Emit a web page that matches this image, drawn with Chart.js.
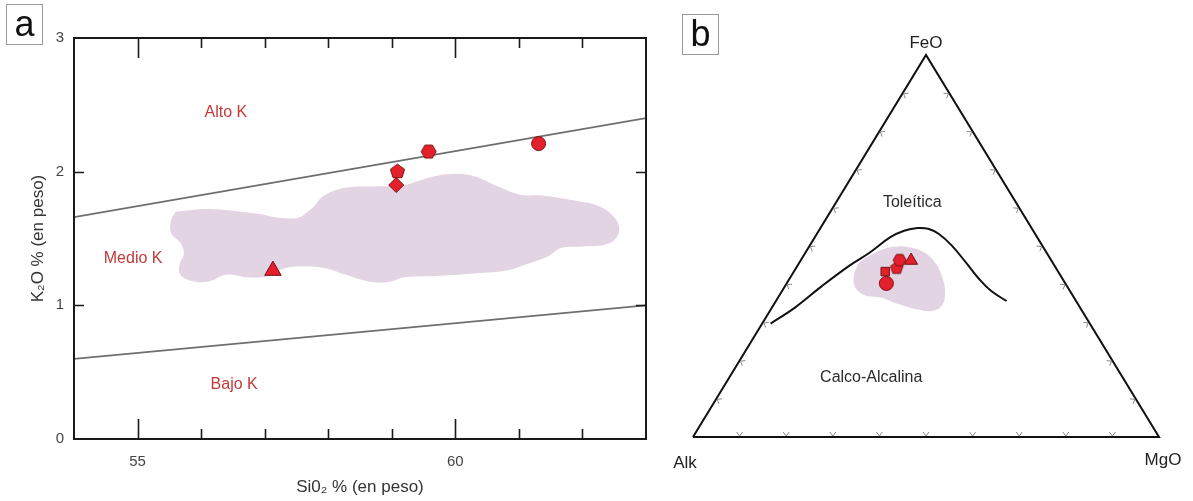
<!DOCTYPE html>
<html>
<head>
<meta charset="utf-8">
<script src="https://cdn.jsdelivr.net/npm/chart.js@4.4.1/dist/chart.umd.min.js"></script>
<style>
body { margin: 0; background: #fff; width: 1193px; height: 501px; position: relative; overflow: hidden; font-family: "Liberation Sans", Arial, sans-serif; }
.panel { position: absolute; top: 0; height: 501px; }
#panelA { left: 0; width: 660px; }
#panelB { left: 660px; width: 533px; }
.tag { position: absolute; border: 1px solid #999; background: #fff; color: #111; font-size: 36px; line-height: 37px; text-align: center; }
</style>
</head>
<body>
<div class="panel" id="panelA"><canvas id="chartA" width="660" height="501"></canvas></div>
<div class="panel" id="panelB"><canvas id="chartB" width="533" height="501"></canvas></div>
<div class="tag" style="left:6px;top:4px;width:35px;height:39px;">a</div>
<div class="tag" style="left:682px;top:14px;width:35px;height:39px;">b</div>
<script>
// --- panel a: K2O vs SiO2 ---
const siO2Samples = [57.13, 59.07, 59.09, 59.58, 61.31];
const k2OSamples = [1.26, 1.90, 2.00, 2.15, 2.21];
const markersA = ['triangle', 'diamond', 'pentagon', 'hexagon', 'circle'];

const highKSiO2 = [54, 63];
const highKK2O = [1.66, 2.40];
const lowKSiO2 = [54, 63];
const lowKK2O = [0.60, 1.00];

const blobSiO2 = [55.60, 56.13, 56.80, 57.47, 57.73, 57.93, 58.27, 58.80, 59.20, 59.47, 59.87, 60.27, 60.67, 61.00, 61.40, 61.80,
    62.27, 62.53, 62.57, 62.40, 62.00, 61.67, 61.47, 61.13, 60.80, 60.33, 59.73, 59.20, 59.00, 58.80, 58.53, 58.27, 57.93,
    57.53, 57.27, 57.07, 56.73, 56.40, 56.13, 55.87, 55.67, 55.67, 55.73, 55.67, 55.53, 55.53];
const blobK2O = [1.70, 1.72, 1.69, 1.65, 1.72, 1.82, 1.88, 1.89, 1.90, 1.94, 1.98, 1.97, 1.89, 1.83, 1.82, 1.79,
    1.74, 1.64, 1.54, 1.46, 1.44, 1.43, 1.37, 1.31, 1.26, 1.24, 1.22, 1.21, 1.18, 1.17, 1.19, 1.23, 1.28,
    1.29, 1.27, 1.22, 1.21, 1.23, 1.18, 1.18, 1.23, 1.32, 1.39, 1.47, 1.54, 1.64];

const seriesLabelsA = ['Alto K', 'Medio K', 'Bajo K'];
const seriesLabelSiO2 = [56.39, 54.93, 56.52];
const seriesLabelK2O = [2.44, 1.35, 0.41];

// --- panel b: AFM ternary (Alk, FeO, MgO) ---
const sampleAlk = [38.4, 37.1, 34.2, 32.5, 30.1];
const sampleFeO = [40.2, 43.3, 44.2, 46.3, 46.2];
const sampleMgO = [21.4, 19.6, 21.6, 21.2, 23.7];
const markersB = ['circle', 'rect', 'pentagon', 'hexagon', 'triangle'];

const curveAlk = [68.5, 61.3, 52.6, 44.1, 37.9, 31.5, 27.7, 24.4, 22.3, 20.7, 19.4, 18.6, 17.9, 16.9, 14.9];
const curveFeO = [29.7, 33.8, 39.5, 44.8, 48.3, 52.3, 54.0, 54.7, 54.5, 53.2, 50.1, 45.7, 41.3, 38.2, 35.6];
const curveMgO = [1.8, 4.9, 7.9, 11.1, 13.8, 16.2, 18.3, 20.9, 23.2, 26.1, 30.5, 35.7, 40.8, 44.9, 49.5];

const blobBAlk = [43.8, 41.4, 38.3, 34.5, 31.2, 28.5, 26.2, 25.2, 25.5, 27.0, 29.5, 32.3, 35.1, 37.5, 39.3, 41.6, 44.3, 45.5, 45.3];
const blobBFeO = [43.1, 45.7, 47.5, 49.2, 49.9, 49.6, 48.3, 45.7, 42.2, 37.8, 34.3, 33.0, 33.4, 34.3, 35.2, 36.5, 36.9, 38.2, 40.4];
const blobBMgO = [13.1, 12.9, 14.2, 16.3, 18.9, 21.9, 25.5, 29.1, 32.3, 35.2, 36.2, 34.7, 31.5, 28.2, 25.5, 21.9, 18.8, 16.3, 14.3];

const fieldLabelsB = ['Toleítica', 'Calco-Alcalina'];
const fieldLabelAlk = [22.3, 54.0];
const fieldLabelFeO = [61.3, 15.5];
const fieldLabelMgO = [16.4, 30.5];

const RED = '#e3202b';
const RED_EDGE = '#7a1212';
const LAVENDER = 'rgb(227, 212, 228)';
const LABEL_RED = '#c23a3a';

// pentagon / hexagon markers are not built into Chart.js
function polygonMarker(sides, r, rot) {
    const size = Math.ceil(2 * r + 4);
    const c = document.createElement('canvas');
    c.width = size; c.height = size;
    const g = c.getContext('2d');
    g.beginPath();
    for (let i = 0; i < sides; i++) {
        const a = rot + i * 2 * Math.PI / sides;
        g.lineTo(size / 2 + r * Math.cos(a), size / 2 + r * Math.sin(a));
    }
    g.closePath();
    g.fillStyle = RED; g.fill();
    g.strokeStyle = RED_EDGE; g.lineWidth = 1; g.stroke();
    return c;
}

function markerStyle(name, r) {
    if (name === 'pentagon') return polygonMarker(5, r, -Math.PI / 2);
    if (name === 'hexagon') return polygonMarker(6, r, 0);
    if (name === 'diamond') return 'rectRot';
    return name;
}

function toXY(alk, feo, mgo) {
    const s = alk + feo + mgo;
    const f = feo / s, m = mgo / s;
    return { x: m + f / 2, y: f };
}

function zipXY(xs, ys) {
    return xs.map(function(x, i) { return { x: x, y: ys[i] }; });
}

function ternPoints(a, f, m) {
    return a.map(function(v, i) { return toXY(v, f[i], m[i]); });
}

const blobA = zipXY(blobSiO2, blobK2O);
blobA.push(blobA[0]);
const blobB = ternPoints(blobBAlk, blobBFeO, blobBMgO);
blobB.push(blobB[0]);

const frameA = {
    id: 'frameA',
    afterDatasetsDraw: function(chart) {
        const ctx = chart.ctx, xs = chart.scales.x, ys = chart.scales.y;
        ctx.save();
        ctx.font = '16px "Liberation Sans", Arial, sans-serif';
        ctx.fillStyle = LABEL_RED;
        ctx.textAlign = 'center';
        ctx.textBaseline = 'middle';
        seriesLabelsA.forEach(function(t, i) {
            ctx.fillText(t, xs.getPixelForValue(seriesLabelSiO2[i]), ys.getPixelForValue(seriesLabelK2O[i]));
        });
        ctx.restore();
    },
    afterDraw: function(chart) {
        const ctx = chart.ctx, a = chart.chartArea, xs = chart.scales.x, ys = chart.scales.y;
        ctx.save();
        ctx.strokeStyle = '#1a1a1a';
        ctx.lineWidth = 2;
        ctx.strokeRect(a.left, a.top, a.right - a.left, a.bottom - a.top);
        ctx.lineWidth = 1.6;
        ctx.beginPath();
        xs.ticks.forEach(function(t) {
            if (t.value <= xs.min || t.value >= xs.max) return;
            const px = Math.round(xs.getPixelForValue(t.value)) + 0.5;
            const len = (t.value % 5 === 0) ? 20 : 10;
            ctx.moveTo(px, a.bottom); ctx.lineTo(px, a.bottom - len);
            ctx.moveTo(px, a.top); ctx.lineTo(px, a.top + len);
        });
        ys.ticks.forEach(function(t) {
            if (t.value <= ys.min || t.value >= ys.max) return;
            const py = Math.round(ys.getPixelForValue(t.value)) + 0.5;
            ctx.moveTo(a.left, py); ctx.lineTo(a.left + 10, py);
            ctx.moveTo(a.right, py); ctx.lineTo(a.right - 10, py);
        });
        ctx.stroke();
        ctx.restore();
    }
};

new Chart(document.getElementById('chartA'), {
    type: 'scatter',
    data: {
        datasets: [
            {
                data: zipXY(siO2Samples, k2OSamples),
                pointStyle: markersA.map(function(m) { return markerStyle(m, 7.5); }),
                pointRadius: [9.5, 7.5, 7.5, 7.5, 7],
                backgroundColor: RED,
                borderColor: RED_EDGE,
                borderWidth: 1,
                order: 1
            },
            {
                type: 'line',
                data: zipXY(highKSiO2, highKK2O),
                borderColor: '#6e6e6e',
                borderWidth: 1.8,
                pointRadius: 0,
                order: 2
            },
            {
                type: 'line',
                data: zipXY(lowKSiO2, lowKK2O),
                borderColor: '#6e6e6e',
                borderWidth: 1.8,
                pointRadius: 0,
                order: 2
            },
            {
                type: 'line',
                data: blobA,
                backgroundColor: LAVENDER,
                borderWidth: 0,
                borderColor: LAVENDER,
                fill: 'shape',
                tension: 0.4,
                pointRadius: 0,
                order: 5
            }
        ]
    },
    options: {
        responsive: false,
        animation: false,
        devicePixelRatio: 1,
        layout: { padding: { left: 20, right: 14, top: 38, bottom: 2 } },
        plugins: { legend: { display: false }, tooltip: { enabled: false } },
        scales: {
            x: {
                min: 54, max: 63,
                afterFit: function(s) { s.height = 60; },
                grid: { display: false, drawTicks: false },
                border: { display: false },
                ticks: {
                    stepSize: 1, autoSkip: false, padding: 14, color: '#444',
                    font: { family: '"Liberation Sans", Arial, sans-serif', size: 15 },
                    callback: function(v) { return (v === 55 || v === 60) ? String(v) : ''; }
                },
                title: {
                    display: true, text: 'Si0₂ % (en peso)', color: '#333',
                    font: { family: '"Liberation Sans", Arial, sans-serif', size: 17 },
                    padding: { top: 0, bottom: 1 }
                }
            },
            y: {
                min: 0, max: 3,
                afterFit: function(s) { s.width = 54; },
                grid: { display: false, drawTicks: false },
                border: { display: false },
                ticks: {
                    stepSize: 1, padding: 10, color: '#444',
                    font: { family: '"Liberation Sans", Arial, sans-serif', size: 15 }
                },
                title: {
                    display: true, text: 'K₂O % (en peso)', color: '#333',
                    font: { family: '"Liberation Sans", Arial, sans-serif', size: 17 },
                    padding: { top: 8, bottom: 0 }
                }
            }
        }
    },
    plugins: [frameA]
});

// --- panel b ---
const vertexLabelsB = ['Alk', 'FeO', 'MgO'];

const frameB = {
    id: 'frameB',
    afterDatasetsDraw: function(chart) {
        const ctx = chart.ctx, xs = chart.scales.x, ys = chart.scales.y;
        function px(p) { return { x: xs.getPixelForValue(p.x), y: ys.getPixelForValue(p.y) }; }
        const vAlk = px(toXY(100, 0, 0)), vFeO = px(toXY(0, 100, 0)), vMgO = px(toXY(0, 0, 100));
        ctx.save();
        // small tick marks every 10 %
        ctx.strokeStyle = '#888';
        ctx.lineWidth = 1;
        const cx = (vAlk.x + vFeO.x + vMgO.x) / 3, cy = (vAlk.y + vFeO.y + vMgO.y) / 3;
        [[vAlk, vMgO], [vAlk, vFeO], [vMgO, vFeO]].forEach(function(e) {
            const dx = e[1].x - e[0].x, dy = e[1].y - e[0].y, len = Math.hypot(dx, dy);
            const tx = dx / len, ty = dy / len;
            for (let k = 1; k < 10; k++) {
                const p = { x: e[0].x + dx * k / 10, y: e[0].y + dy * k / 10 };
                let nx = -ty, ny = tx;
                if ((cx - p.x) * nx + (cy - p.y) * ny < 0) { nx = -nx; ny = -ny; }
                ctx.beginPath();
                ctx.moveTo(p.x + nx * 5 - tx * 3, p.y + ny * 5 - ty * 3);
                ctx.lineTo(p.x + nx * 1, p.y + ny * 1);
                ctx.lineTo(p.x + nx * 5 + tx * 3, p.y + ny * 5 + ty * 3);
                ctx.stroke();
            }
        });
        ctx.font = '17px "Liberation Sans", Arial, sans-serif';
        ctx.fillStyle = '#222';
        ctx.textAlign = 'center';
        ctx.textBaseline = 'middle';
        ctx.fillText(vertexLabelsB[0], vAlk.x - 8, vAlk.y + 26);
        ctx.fillText(vertexLabelsB[1], vFeO.x, vFeO.y - 12);
        ctx.fillText(vertexLabelsB[2], vMgO.x + 4, vMgO.y + 23);
        ctx.font = '16px "Liberation Sans", Arial, sans-serif';
        ctx.fillStyle = '#2a2a2a';
        fieldLabelsB.forEach(function(t, i) {
            const p = px(toXY(fieldLabelAlk[i], fieldLabelFeO[i], fieldLabelMgO[i]));
            ctx.fillText(t, p.x, p.y);
        });
        ctx.restore();
    }
};

new Chart(document.getElementById('chartB'), {
    type: 'scatter',
    data: {
        datasets: [
            {
                data: ternPoints(sampleAlk, sampleFeO, sampleMgO),
                pointStyle: markersB.map(function(m) { return markerStyle(m, 6.5); }),
                pointRadius: [7, 6, 6.5, 6.5, 7.5],
                backgroundColor: RED,
                borderColor: RED_EDGE,
                borderWidth: 1,
                clip: false,
                order: 1
            },
            {
                type: 'line',
                data: ternPoints(curveAlk, curveFeO, curveMgO),
                borderColor: '#111',
                borderWidth: 2,
                tension: 0.4,
                pointRadius: 0,
                clip: false,
                order: 2
            },
            {
                type: 'line',
                data: [toXY(100, 0, 0), toXY(0, 0, 100), toXY(0, 100, 0), toXY(100, 0, 0)],
                borderColor: '#111',
                borderWidth: 2,
                pointRadius: 0,
                clip: false,
                order: 3
            },
            {
                type: 'line',
                data: blobB,
                backgroundColor: LAVENDER,
                borderColor: LAVENDER,
                borderWidth: 0,
                fill: 'shape',
                tension: 0.4,
                pointRadius: 0,
                clip: false,
                order: 5
            }
        ]
    },
    options: {
        responsive: false,
        animation: false,
        devicePixelRatio: 1,
        layout: { padding: { left: 33, right: 34, top: 55, bottom: 64 } },
        plugins: { legend: { display: false }, tooltip: { enabled: false } },
        scales: {
            x: { type: 'linear', min: 0, max: 1, display: false },
            y: { type: 'linear', min: 0, max: 1, display: false }
        }
    },
    plugins: [frameB]
});
</script>
</body>
</html>
